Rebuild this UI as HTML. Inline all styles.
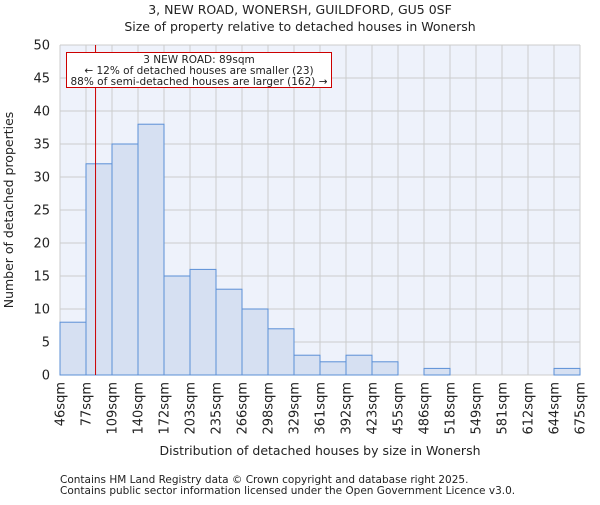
<!DOCTYPE html>
<html><head><meta charset="utf-8"><style>
body{margin:0;background:#fff;}
svg text{font-family:"DejaVu Sans","Liberation Sans",sans-serif;fill:#222;}
</style></head><body>
<svg id="chart" width="600" height="500" xmlns="http://www.w3.org/2000/svg">
<text x="300" y="14" font-size="12.5" text-anchor="middle">3, NEW ROAD, WONERSH, GUILDFORD, GU5 0SF</text>
<text x="300" y="31" font-size="12.5" text-anchor="middle">Size of property relative to detached houses in Wonersh</text>
<rect x="60" y="45" width="520" height="330" fill="#eef2fb"/>
<g id="grid"></g><g id="bars"></g><g id="axes"></g>
<text transform="translate(13,210) rotate(-90)" font-size="12.5" text-anchor="middle">Number of detached properties</text>
<text x="320" y="455" font-size="12.5" text-anchor="middle">Distribution of detached houses by size in Wonersh</text>
<text x="60" y="483" font-size="10.5" fill="#444">Contains HM Land Registry data © Crown copyright and database right 2025.</text>
<text x="60" y="494" font-size="10.5" fill="#444">Contains public sector information licensed under the Open Government Licence v3.0.</text>
</svg>
<script>
const binEdges=[46,77,109,140,172,203,235,266,298,329,361,392,423,455,486,518,549,581,612,644,675];
const counts=[8,32,35,38,15,16,13,10,7,3,2,3,2,0,1,0,0,0,0,1];
const yTicks=[0,5,10,15,20,25,30,35,40,45,50];
const propertySize=89;
const NS="http://www.w3.org/2000/svg";
const X0=60,X1=580,Y0=375,Y1=45;
const xi=i=>X0+(X1-X0)*i/(binEdges.length-1);
const xv=v=>X0+(X1-X0)*(v-binEdges[0])/(binEdges[binEdges.length-1]-binEdges[0]);
const y=v=>Y0-(Y0-Y1)*v/50;
function mk(tag,attrs,parent,txt){const e=document.createElementNS(NS,tag);for(const k in attrs)e.setAttribute(k,attrs[k]);if(txt!=null)e.textContent=txt;parent.appendChild(e);return e;}
const grid=document.getElementById('grid'),bars=document.getElementById('bars'),axes=document.getElementById('axes'),svg=document.getElementById('chart');
binEdges.forEach((b,i)=>{const l=mk('line',{x1:xi(i),x2:xi(i),y1:Y1,y2:Y0,stroke:'#cccccc','stroke-width':1},grid);


const t=mk('text',{transform:`translate(${xi(i)+4.5},382) rotate(-90)`,'font-size':13,'text-anchor':'end'},axes,b+'sqm');


});
yTicks.forEach(v=>{const l=mk('line',{x1:X0,x2:X1,y1:y(v),y2:y(v),stroke:'#cccccc','stroke-width':1},grid);


const t=mk('text',{x:50,y:y(v)+4.5,'font-size':13,'text-anchor':'end'},axes,v);


});
counts.forEach((c,i)=>{if(c<=0)return;const r=mk('rect',{x:xi(i),y:y(c),width:xi(i+1)-xi(i),height:Y0-y(c),fill:'#d6e0f2',stroke:'#5b8fd6','stroke-width':1},bars);


});
const ml=mk('line',{x1:xv(propertySize),x2:xv(propertySize),y1:Y1,y2:Y0,stroke:'#cc0000','stroke-width':1},svg);


const g=mk('g',{},svg);


mk('rect',{x:66.5,y:52.5,width:265,height:35,fill:'#fff',stroke:'#cc0000','stroke-width':1},g);
mk('text',{x:199,y:63,'font-size':10.5,'text-anchor':'middle'},g,'3 NEW ROAD: 89sqm');
mk('text',{x:199,y:74,'font-size':10.5,'text-anchor':'middle'},g,'← 12% of detached houses are smaller (23)');
mk('text',{x:199,y:85,'font-size':10.5,'text-anchor':'middle'},g,'88% of semi-detached houses are larger (162) →');
</script>
</body></html>
